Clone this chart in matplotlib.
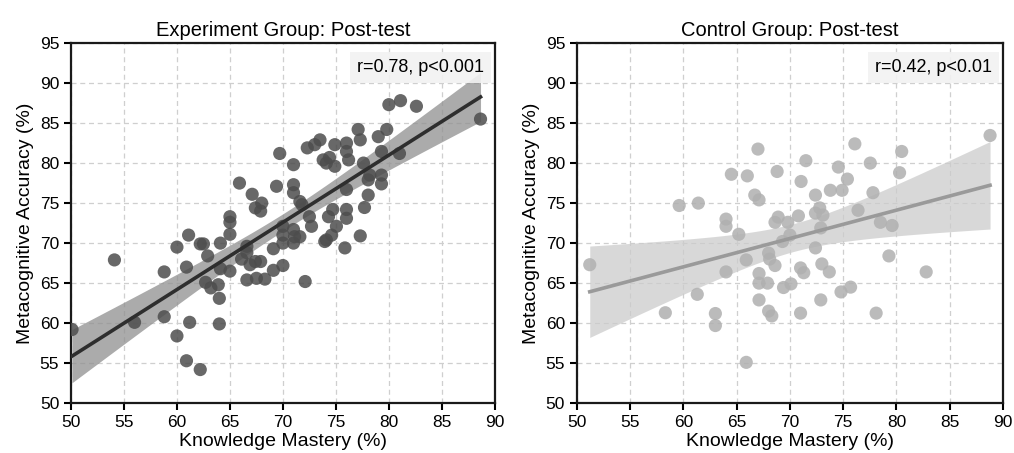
import numpy as np
import matplotlib.pyplot as plt

plt.rcParams['font.family'] = ['Liberation Sans', 'DejaVu Sans']

# Experiment group (post-test): knowledge mastery vs metacognitive accuracy
exp_x = [50.1, 54.1, 56.0, 58.8, 58.8, 60.0, 60.0, 61.1, 60.9, 61.2,
         60.9, 62.2, 62.2, 62.5, 62.9, 62.7, 63.2, 63.9, 64.0, 64.0,
         64.1, 64.1, 65.0, 65.0, 65.0, 65.0, 65.9, 66.1, 66.6, 66.6,
         66.6, 66.9, 67.1, 67.4, 67.4, 67.5, 67.9, 67.9, 68.0, 68.3,
         69.1, 69.1, 69.7, 69.4, 70.0, 72.1, 71.0, 71.0, 71.0, 71.6,
         71.8, 70.0, 70.0, 70.0, 71.0, 71.1, 71.6, 71.0, 72.5, 72.7,
         72.3, 73.0, 73.5, 73.8, 74.1, 74.4, 74.9, 74.9, 74.3, 74.7,
         75.05, 74.6, 73.95, 74.1, 75.85, 76.0, 76.0, 76.2, 76.0, 76.0,
         76.0, 80.0, 81.1, 82.6, 88.65, 79.8, 79.0, 77.1, 77.3, 77.6,
         78.2, 78.05, 79.3, 81.0, 79.3, 79.3, 78.05, 77.7, 77.3]
exp_y = [59.2, 67.9, 60.1, 66.4, 60.8, 69.5, 58.4, 71.0, 67.0, 60.1,
         55.3, 54.2, 69.9, 69.9, 68.4, 65.1, 64.4, 64.8, 63.1, 59.9,
         70.0, 66.8, 73.3, 72.6, 71.1, 66.5, 77.5, 68.0, 69.6, 68.8,
         65.4, 67.3, 76.1, 74.4, 67.7, 65.6, 67.7, 74.0, 75.0, 65.5,
         69.3, 66.6, 81.2, 77.1, 67.2, 65.2, 79.8, 77.3, 76.3, 75.2,
         74.8, 72.1, 71.0, 70.0, 71.7, 70.8, 70.8, 70.0, 73.3, 72.1,
         81.9, 82.3, 82.9, 80.4, 80.0, 80.7, 82.3, 79.6, 73.3, 74.2,
         72.1, 71.0, 70.2, 70.4, 69.4, 82.5, 81.45, 80.4, 76.7, 74.2,
         73.1, 87.3, 87.8, 87.1, 85.5, 84.2, 83.3, 84.2, 82.9, 80.0,
         78.5, 77.9, 81.45, 81.2, 78.5, 77.4, 76.0, 74.45, 70.9]

# Control group (post-test)
ctl_x = [51.2, 58.3, 59.6, 61.4, 61.3, 63.0, 63.0, 64.0, 64.0, 64.0,
         64.5, 65.2, 65.9, 65.9, 66.0, 66.7, 67.0, 67.1, 67.1, 67.1,
         67.1, 67.9, 68.0, 68.3, 68.0, 68.1, 68.6, 68.6, 68.8, 68.9,
         69.3, 69.4, 69.8, 70.0, 70.1, 70.8, 71.0, 71.3, 71.0, 71.05,
         71.5, 72.4, 73.8, 74.9, 74.55, 75.4, 76.1, 77.55, 77.8, 80.3,
         80.5, 88.8, 72.8, 72.4, 73.1, 76.4, 72.9, 78.5, 79.6, 72.4,
         79.3, 73.0, 73.7, 82.8, 74.8, 75.7, 72.9, 78.1]
ctl_y = [67.3, 61.3, 74.7, 75.0, 63.6, 61.2, 59.7, 73.0, 72.1, 66.4,
         78.6, 71.1, 67.9, 55.1, 78.4, 76.0, 81.75, 75.4, 66.2, 65.0,
         62.9, 65.0, 61.5, 60.9, 68.75, 68.0, 67.2, 72.6, 78.95, 73.25,
         70.2, 64.45, 72.6, 71.0, 64.9, 73.4, 66.9, 66.3, 61.25, 77.7,
         80.3, 76.0, 76.6, 76.6, 79.5, 78.0, 82.4, 80.0, 76.3, 78.8,
         81.45, 83.45, 74.4, 73.75, 73.5, 74.1, 71.9, 72.6, 72.2, 69.4,
         68.4, 67.4, 66.4, 66.4, 63.9, 64.5, 62.9, 61.25]

titles = ["Experiment Group: Post-test", "Control Group: Post-test"]
stats_text = ["r=0.78, p<0.001", "r=0.42, p<0.01"]


def fit_band(x, y, xs, tval=2.3):
    x = np.asarray(x)
    y = np.asarray(y)
    b, a = np.polyfit(x, y, 1)
    pred = a + b * xs
    resid = y - (a + b * x)
    n = len(x)
    s = np.sqrt(np.sum(resid ** 2) / (n - 2))
    sxx = np.sum((x - x.mean()) ** 2)
    se = s * np.sqrt(1.0 / n + (xs - x.mean()) ** 2 / sxx)
    return pred, pred - tval * se, pred + tval * se


fig = plt.figure(figsize=(10.14, 4.53), dpi=100)
ax1 = fig.add_axes([0.070, 0.110, 0.418, 0.795])
ax2 = fig.add_axes([0.569, 0.110, 0.420, 0.795])

groups = [(ax1, exp_x, exp_y, "#4d4d4d", "#2e2e2e", "#8f8f8f"),
          (ax2, ctl_x, ctl_y, "#b0b0b0", "#9a9a9a", "#cccccc")]

for i, (ax, x, y, pc, lc, bc) in enumerate(groups):
    ax.set_axisbelow(True)
    ax.grid(True, linestyle=(0, (4, 3)), color="#cfcfcf", linewidth=0.9)
    xs = np.linspace(min(x), max(x), 200)
    pred, lo, hi = fit_band(x, y, xs)
    ax.fill_between(xs, lo, hi, color=bc, alpha=0.75, linewidth=0, zorder=2)
    ax.scatter(x, y, s=90, color=pc, alpha=0.85, edgecolors="none", zorder=3)
    ax.plot(xs, pred, color=lc, linewidth=2.6, zorder=4)

    ax.set_xlim(50, 90)
    ax.set_ylim(50, 95)
    ax.set_xticks(range(50, 91, 5))
    ax.set_yticks(range(50, 96, 5))
    ax.tick_params(labelsize=12.5, width=1.5, length=5)
    for sp in ax.spines.values():
        sp.set_linewidth(1.6)
        sp.set_color("#1a1a1a")
    ax.set_title(titles[i], fontsize=14.5, pad=5)
    ax.set_xlabel("Knowledge Mastery (%)", fontsize=14, labelpad=2)
    ax.set_ylabel("Metacognitive Accuracy (%)", fontsize=14, labelpad=4)
    ax.text(0.975, 0.955, stats_text[i], transform=ax.transAxes,
            ha="right", va="top", fontsize=13,
            bbox=dict(boxstyle="square,pad=0.4", facecolor="#f2f2f2",
                      edgecolor="none", alpha=0.9), zorder=5)

fig.savefig("out.png", dpi=100)
